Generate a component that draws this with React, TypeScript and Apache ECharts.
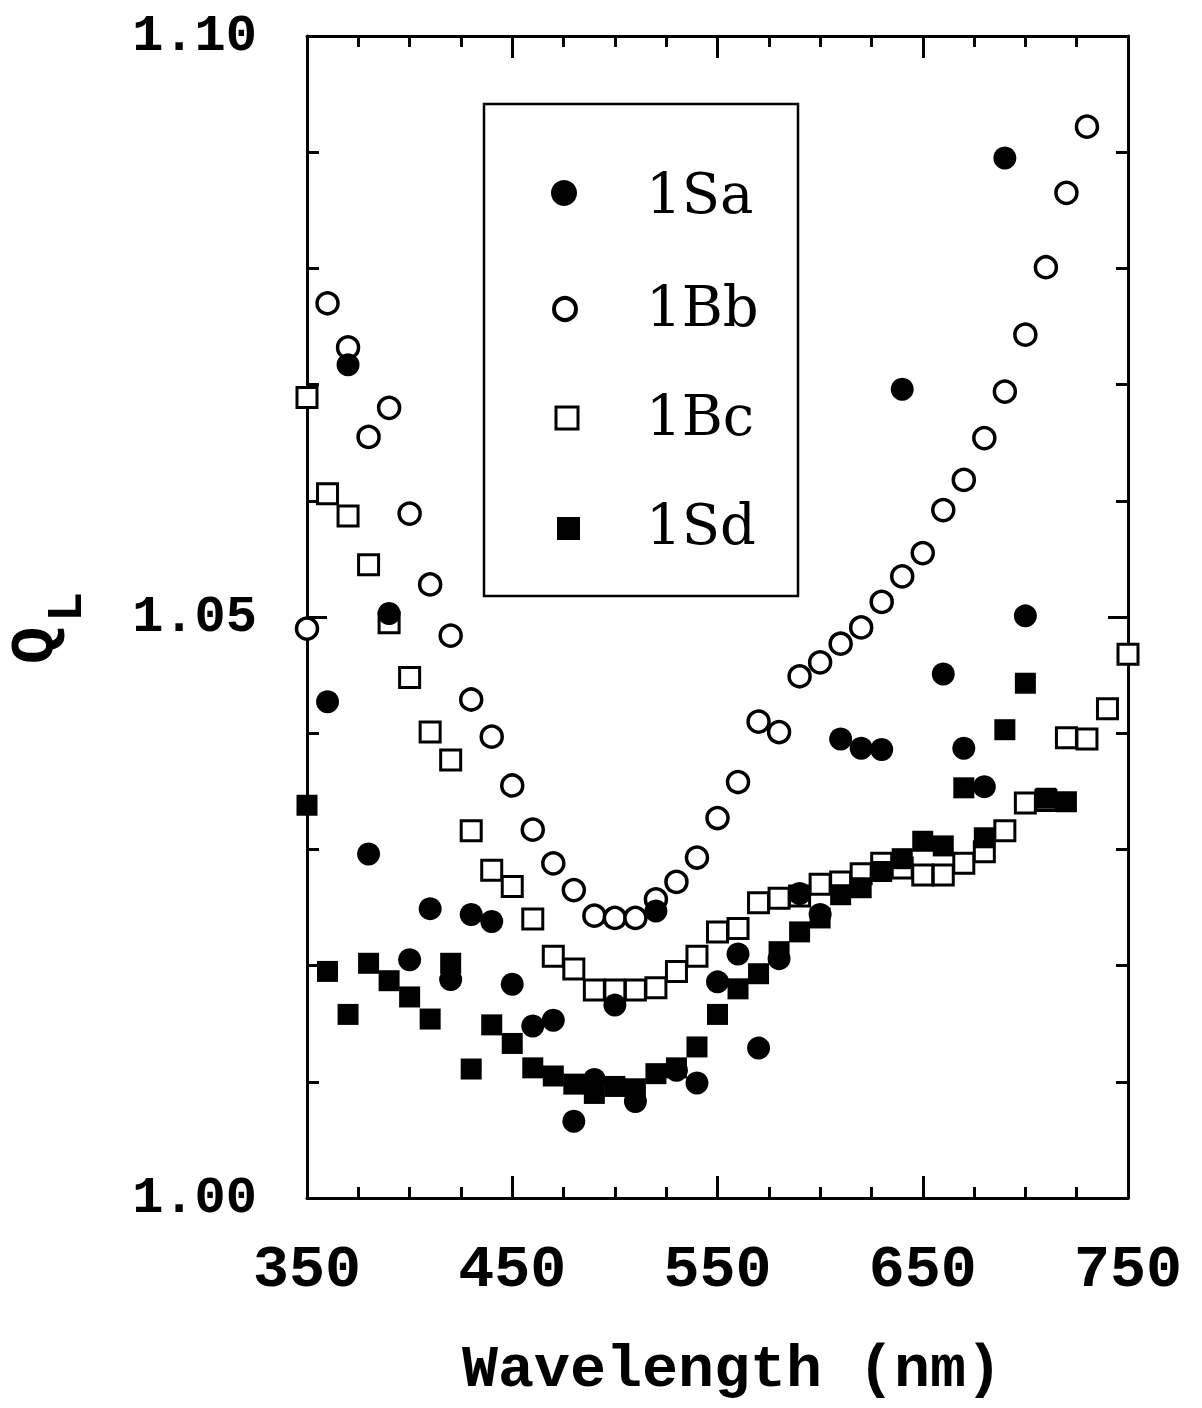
import React, { useEffect, useRef } from "react";
import * as echarts from "echarts";

// Wavelength grid (nm)
const wavelengths = [
  350, 360, 370, 380, 390, 400, 410, 420, 430, 440,
  450, 460, 470, 480, 490, 500, 510, 520, 530, 540,
  550, 560, 570, 580, 590, 600, 610, 620, 630, 640,
  650, 660, 670, 680, 690, 700, 710, 720, 730, 740,
  750,
];

// Q_L values (null = no point)
const s1Sa = [
  null, 1.0427, 1.0717, 1.0296, 1.0503, 1.0205, 1.0249, 1.0188, 1.0244, 1.0238,
  1.0184, 1.0148, 1.0153, 1.0066, 1.0102, 1.0166, 1.0083, 1.0247, 1.011, 1.0099,
  1.0186, 1.021, 1.0129, 1.0206, 1.0262, 1.0244, 1.0395, 1.0387, 1.0386, 1.0696,
  null, 1.0451, 1.0387, 1.0354, 1.0895, 1.0501, null, null, null, null,
  null,
];
const s1Bb = [
  1.049, 1.077, 1.0732, 1.0655, 1.068, 1.0589, 1.0528, 1.0484, 1.0429, 1.0397,
  1.0355, 1.0317, 1.0288, 1.0265, 1.0243, 1.0241, 1.0241, 1.0257, 1.0272, 1.0293,
  1.0327, 1.0358, 1.041, 1.0401, 1.0449, 1.0461, 1.0477, 1.0491, 1.0513, 1.0535,
  1.0555, 1.0592, 1.0618, 1.0654, 1.0694, 1.0743, 1.0801, 1.0865, 1.0922, null,
  null,
];
const s1Bc = [
  1.0689, 1.0606, 1.0587, 1.0545, 1.0495, 1.0448, 1.0401, 1.0377, 1.0316, 1.0282,
  1.0268, 1.024, 1.0208, 1.0197, 1.0179, 1.0179, 1.0179, 1.0181, 1.0195, 1.0208,
  1.0229, 1.0232, 1.0254, 1.0258, 1.026, 1.027, 1.0272, 1.0279, 1.0288, 1.0284,
  1.0278, 1.0278, 1.0288, 1.0298, 1.0316, 1.034, 1.0342, 1.0396, 1.0395, 1.0421,
  1.0468,
];
const s1Sd = [
  1.0338, 1.0195, 1.0158, 1.0202, 1.0187, 1.0173, 1.0154, 1.0202, 1.0111, 1.0149,
  1.0133, 1.0112, 1.0105, 1.0098, 1.009, 1.0096, 1.0094, 1.0107, 1.0112, 1.013,
  1.0158, 1.018, 1.0193, 1.0212, 1.0229, 1.0241, 1.0261, 1.0267, 1.0281, 1.0292,
  1.0307, 1.0303, 1.0353, 1.031, 1.0403, 1.0443, 1.0344, 1.0341, null, null,
  null,
];

const seriesNames = ["1Sa", "1Bb", "1Bc", "1Sd"];
const xTitle = "Wavelength (nm)";

function pairs(vals: (number | null)[]) {
  const out: number[][] = [];
  wavelengths.forEach((w, i) => {
    const v = vals[i];
    if (v !== null && v !== undefined) out.push([w, v]);
  });
  return out;
}

const MONO = "'Liberation Mono', 'DejaVu Sans Mono', monospace";
const SERIF = "'DejaVu Serif', 'Liberation Serif', serif";

export default function App() {
  const ref = useRef<HTMLDivElement>(null);

  useEffect(() => {
    document.body.style.margin = "0";
    if (!ref.current) return;
    const chart = echarts.init(ref.current, undefined, { renderer: "svg" });

    const axisLine = { show: true, lineStyle: { color: "#000", width: 3 } };
    const tickStyle = { color: "#000", width: 3 };

    const xBase = {
      type: "value" as const,
      min: 350,
      max: 750,
      interval: 100,
      axisLine,
      axisTick: { show: true, inside: true, length: 22, lineStyle: tickStyle },
      minorTick: { show: true, splitNumber: 4, length: 11, lineStyle: tickStyle },
      splitLine: { show: false },
      minorSplitLine: { show: false },
    };
    const yBase = {
      type: "value" as const,
      min: 1.0,
      max: 1.1,
      interval: 0.05,
      axisLine,
      axisTick: { show: true, inside: true, length: 20, lineStyle: tickStyle },
      minorTick: { show: true, splitNumber: 5, length: 12, lineStyle: tickStyle },
      splitLine: { show: false },
      minorSplitLine: { show: false },
    };

    const option: any = {
      animation: false,
      backgroundColor: "#ffffff",
      grid: { left: 307, right: 74, top: 36, bottom: 210, containLabel: false },
      xAxis: [
        {
          ...xBase,
          position: "bottom",
          axisLabel: {
            show: true,
            margin: 42,
            fontSize: 60,
            fontWeight: "bold",
            fontFamily: MONO,
            color: "#000",
            formatter: (v: number) => String(Math.round(v)),
          },
        },
        { ...xBase, position: "top", axisLabel: { show: false } },
      ],
      yAxis: [
        {
          ...yBase,
          position: "left",
          axisLabel: {
            show: true,
            margin: 50,
            fontSize: 52,
            fontWeight: "bold",
            fontFamily: MONO,
            color: "#000",
            formatter: (v: number) => v.toFixed(2),
          },
        },
        { ...yBase, position: "right", axisLabel: { show: false } },
      ],
      series: [
        {
          name: seriesNames[1],
          type: "scatter",
          symbol: "circle",
          symbolSize: 21,
          data: pairs(s1Bb),
          itemStyle: { color: "#fff", borderColor: "#000", borderWidth: 3.5, opacity: 1 },
          z: 2,
        },
        {
          name: seriesNames[2],
          type: "scatter",
          symbol: "rect",
          symbolSize: 20,
          data: pairs(s1Bc),
          itemStyle: { color: "#fff", borderColor: "#000", borderWidth: 3, opacity: 1 },
          z: 3,
        },
        {
          name: seriesNames[0],
          type: "scatter",
          symbol: "circle",
          symbolSize: 23,
          data: pairs(s1Sa),
          itemStyle: { color: "#000", opacity: 1 },
          z: 4,
        },
        {
          name: seriesNames[3],
          type: "scatter",
          symbol: "rect",
          symbolSize: 21,
          data: pairs(s1Sd),
          itemStyle: { color: "#000", opacity: 1 },
          z: 5,
        },
      ],
      graphic: [
        // legend box
        {
          type: "rect",
          shape: { x: 484, y: 104, width: 314, height: 492 },
          style: { fill: "#fff", stroke: "#000", lineWidth: 2.5 },
          z: 10,
        },
        {
          type: "circle",
          shape: { cx: 564, cy: 193, r: 13 },
          style: { fill: "#000" },
          z: 11,
        },
        {
          type: "circle",
          shape: { cx: 565, cy: 309, r: 11 },
          style: { fill: "#fff", stroke: "#000", lineWidth: 4 },
          z: 11,
        },
        {
          type: "rect",
          shape: { x: 556, y: 407, width: 22, height: 22 },
          style: { fill: "#fff", stroke: "#000", lineWidth: 3 },
          z: 11,
        },
        {
          type: "rect",
          shape: { x: 557, y: 517, width: 23, height: 23 },
          style: { fill: "#000" },
          z: 11,
        },
        ...seriesNames.map((n, i) => ({
          type: "text",
          x: 646,
          y: [193, 306, 415, 524][i],
          style: {
            text: n,
            fontSize: 56,
            fontFamily: SERIF,
            fill: "#000",
            textAlign: "left",
            textVerticalAlign: "middle",
          },
          z: 11,
        })),
        // x axis title
        {
          type: "text",
          x: 732,
          y: 1370,
          style: {
            text: xTitle,
            fontSize: 60,
            fontWeight: "bold",
            fontFamily: MONO,
            fill: "#000",
            textAlign: "center",
            textVerticalAlign: "middle",
          },
        },
        // y axis title Q_L (rotated, reading bottom to top)
        {
          type: "group",
          x: 66,
          y: 664,
          rotation: Math.PI / 2,
          children: [
            {
              type: "text",
              x: 0,
              y: 0,
              style: {
                text: "Q",
                fontSize: 62,
                fontWeight: "bold",
                fontFamily: MONO,
                fill: "#000",
                textAlign: "left",
                textVerticalAlign: "bottom",
              },
            },
            {
              type: "text",
              x: 42,
              y: 26,
              style: {
                text: "L",
                fontSize: 50,
                fontWeight: "bold",
                fontFamily: MONO,
                fill: "#000",
                textAlign: "left",
                textVerticalAlign: "bottom",
              },
            },
          ],
        },
      ],
    };

    chart.setOption(option);
    return () => chart.dispose();
  }, []);

  return <div ref={ref} style={{ width: 1202, height: 1408 }} />;
}
